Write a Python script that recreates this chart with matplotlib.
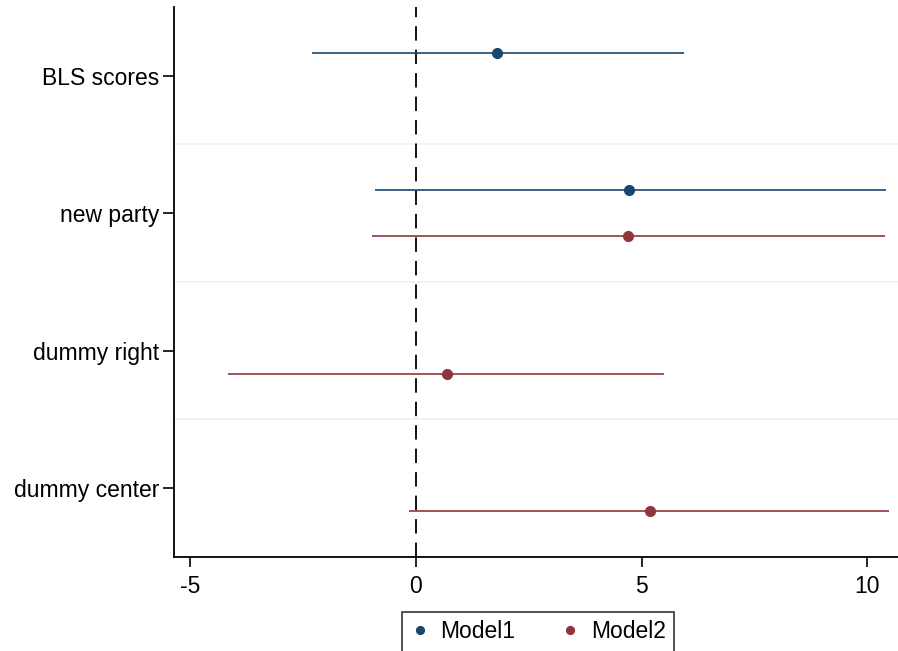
import matplotlib.pyplot as plt
import numpy as np

plt.rcParams['font.family'] = ['Liberation Sans', 'DejaVu Sans']
plt.rcParams['axes.unicode_minus'] = False

# Coefficients and 95% CIs
labels = ['BLS scores', 'new party', 'dummy right', 'dummy center']

m1_rows = [0, 1]
m1_coef = [1.79, 4.73]
m1_lo = [-2.30, -0.91]
m1_hi = [5.93, 10.42]

m2_rows = [1, 2, 3]
m2_coef = [4.71, 0.69, 5.18]
m2_lo = [-0.97, -4.16, -0.15]
m2_hi = [10.40, 5.49, 10.49]

navy = '#1a476f'
maroon = '#90353b'
offset = 0.167

fig = plt.figure(figsize=(8.98, 6.51), dpi=100)
ax = fig.add_axes([0.194, 0.1444, 0.806, 0.845])

# light separators between categories
for k in range(len(labels) - 1):
    ax.axhline(k + 0.5, color='#eaf2f3', lw=1.2, zorder=0)

ax.axvline(0, color='black', lw=1.3, ls=(0, (8, 5)), zorder=1)

y1 = np.array(m1_rows) - offset
ax.hlines(y1, m1_lo, m1_hi, color=navy, lw=1.2, zorder=2)
ax.plot(m1_coef, y1, 'o', color=navy, ms=7, zorder=3, label='Model1')

y2 = np.array(m2_rows) + offset
ax.hlines(y2, m2_lo, m2_hi, color=maroon, lw=1.2, zorder=2)
ax.plot(m2_coef, y2, 'o', color=maroon, ms=7, zorder=3, label='Model2')

ax.set_yticks(range(len(labels)))
ax.set_yticklabels(labels, fontsize=16.5)
ax.set_ylim(len(labels) - 0.5, -0.5)

ax.set_xlim(-5.35, 10.68)
ax.set_xticks([-5, 0, 5, 10])
ax.tick_params(axis='x', labelsize=16.5, length=7, width=1.2, pad=6)
ax.tick_params(axis='y', length=8, width=1.2, pad=3)

for s in ['top', 'right']:
    ax.spines[s].set_visible(False)
for s in ['left', 'bottom']:
    ax.spines[s].set_linewidth(1.3)

leg = fig.legend(loc='upper center', bbox_to_anchor=(538 / 898, 1 - 601 / 651),
                 ncol=2, fontsize=16.5, frameon=True, fancybox=False,
                 edgecolor='black', handlelength=0.8, handletextpad=0.5,
                 columnspacing=2.0, markerscale=0.8, borderpad=0.35)
leg.get_frame().set_linewidth(1.2)

plt.savefig('out.png', dpi=100)
